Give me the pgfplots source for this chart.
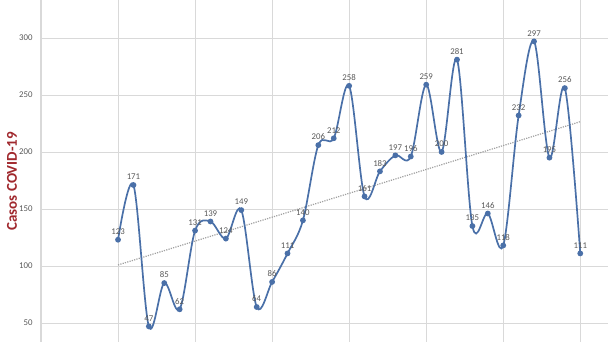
\documentclass[border=0pt]{standalone}
\usepackage{pgfplots}
\usepackage{pgfplotstable}
\pgfplotsset{compat=1.18}
\usepackage{fontspec}
\setmainfont{Carlito}
\definecolor{serie}{RGB}{74,112,168}
\definecolor{gridc}{RGB}{217,217,217}
\definecolor{txt}{RGB}{89,89,89}
\definecolor{lab}{RGB}{160,40,45}
\definecolor{trend}{RGB}{160,160,160}
\pgfplotstableread{
x y
1 123
2 171
3 47
4 85
5 62
6 131
7 139
8 124
9 149
10 64
11 86
12 111
13 140
14 206
15 212
16 258
17 161
18 183
19 197
20 196
21 259
22 200
23 281
24 135
25 146
26 118
27 232
28 297
29 195
30 256
31 111
}\data
\begin{document}
\begin{tikzpicture}
\begin{axis}[
  scale only axis, width=567pt, height=342pt, at={(0,0)}, anchor=south west,
  xmin=-4, xmax=32.8, ymin=33.3, ymax=333.3,
  xtick={-4,1,...,31}, xticklabel=\empty, ytick={50,100,...,300},
  grid=major, major grid style={gridc, line width=0.8pt},
  axis lines*=left, x axis line style={draw=none}, y axis line style={gridc, line width=1pt},
  major tick length=0pt,
  yticklabel style={font=\fontsize{8.8}{10}\selectfont, text=txt, xshift=-5pt},
  /pgf/number format/assume math mode=true,
  ylabel={Casos COVID-19},
  ylabel style={font=\fontsize{15}{17}\selectfont\bfseries, text=lab, at={(axis description cs:-0.051,0.47)}, anchor=center},
]
\addplot[trend, dash pattern=on 1.2pt off 1.2pt, line width=1.2pt] table[x=x, y={create col/linear regression={y=y}}] {\data};
\addplot[serie, line width=1.7pt, smooth, tension=0.55, mark=*, mark size=2pt,
  mark options={fill=serie, draw=serie},
  nodes near coords, point meta=explicit symbolic,
  every node near coord/.append style={font=\fontsize{8.8}{10}\selectfont, text=txt, yshift=1pt}]
  table[x=x, y=y, meta=y] {\data};
\end{axis}
\pgfresetboundingbox
\path[use as bounding box] (-41pt,0) rectangle (567pt,342pt);
\end{tikzpicture}
\end{document}
